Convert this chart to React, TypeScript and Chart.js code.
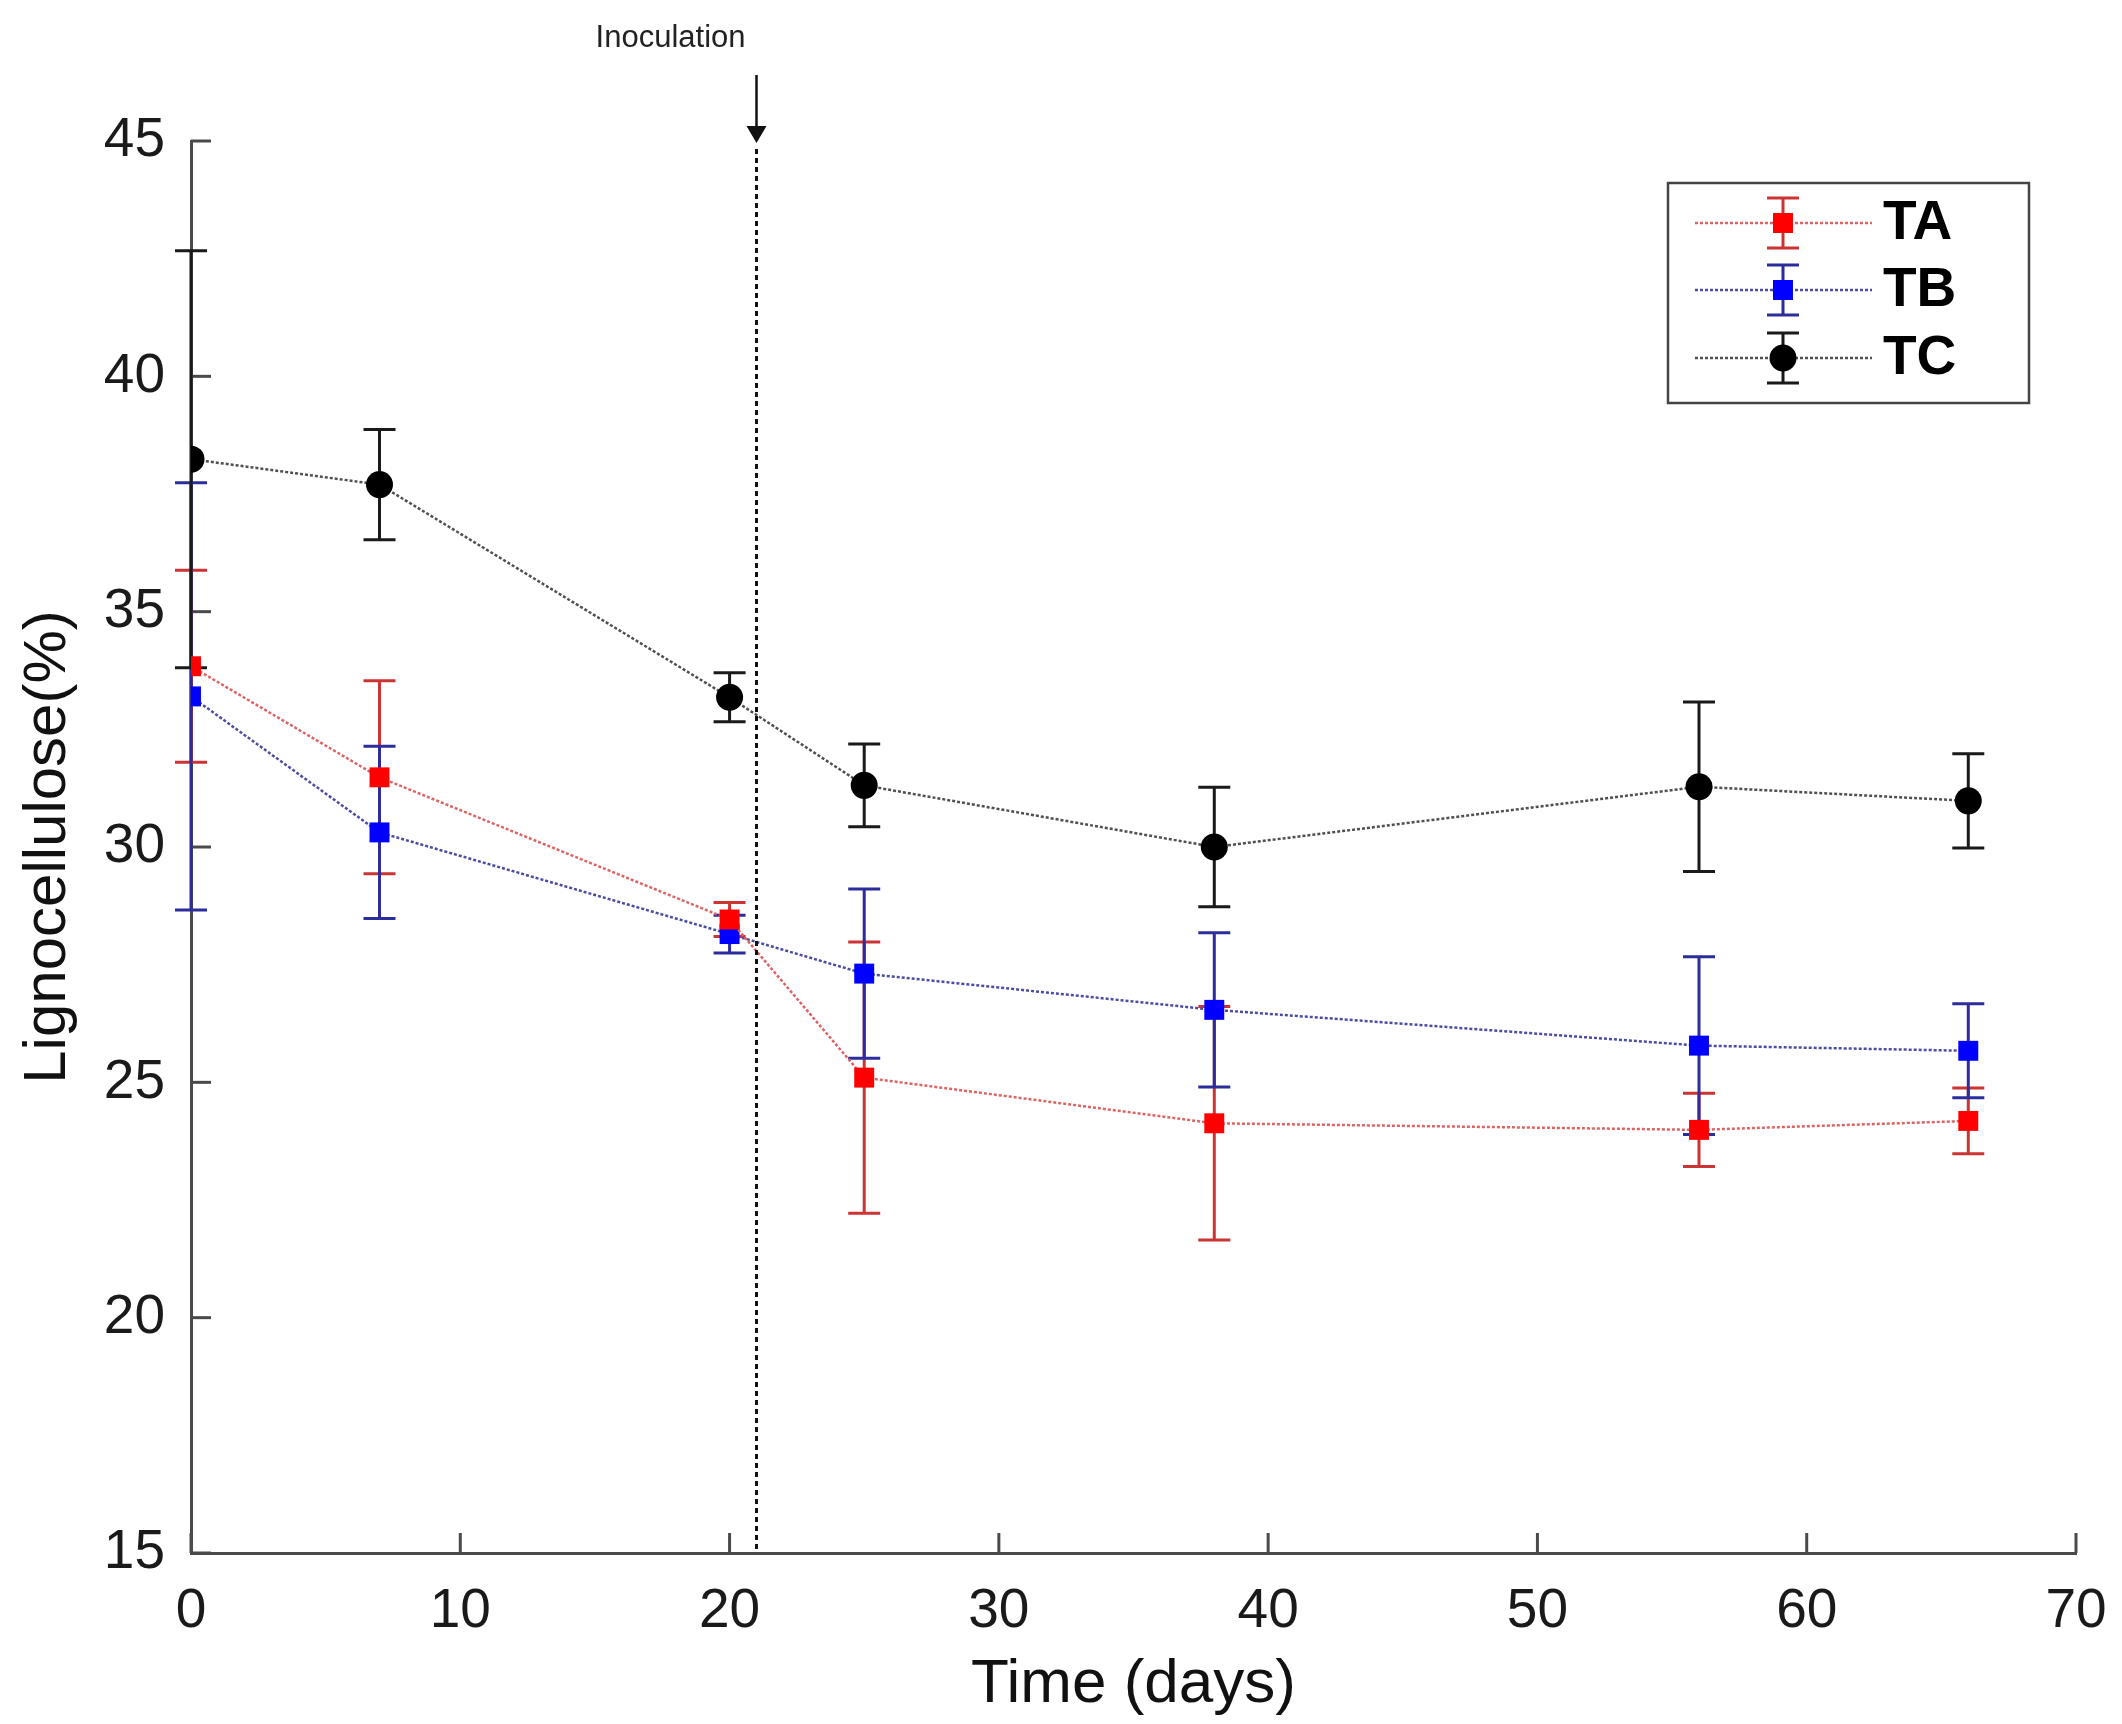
import React, { useEffect, useRef } from "react";
import { Chart, registerables } from "chart.js";

Chart.register(...registerables);

// ---- data ----
const days = [0, 7, 20, 25, 38, 56, 66];
const taValues = [33.84, 31.48, 28.46, 25.1, 24.13, 23.99, 24.18];
const taErrors = [2.04, 2.05, 0.36, 2.88, 2.48, 0.78, 0.7];
const tbValues = [33.2, 30.31, 28.15, 27.31, 26.54, 25.78, 25.67];
const tbErrors = [4.54, 1.83, 0.4, 1.8, 1.64, 1.89, 1.0];
const tcValues = [38.24, 37.7, 33.18, 31.31, 30.0, 31.28, 30.98];
const tcErrors = [4.43, 1.17, 0.52, 0.88, 1.27, 1.8, 1.0];
const seriesNames = ["TA", "TB", "TC"];
const xTitle = "Time (days)";
const yTitle = "Lignocellulose(%)";
const inoculationDay = 21;
const inoculationLabel = "Inoculation";

const FONT = '"Liberation Sans", Arial, Helvetica, sans-serif';
const AXIS = "#4a4a4a";

const errorBarPlugin = {
  id: "errorBars",
  beforeDatasetsDraw(chart: any) {
    const { ctx } = chart;
    const x = chart.scales.x;
    const y = chart.scales.y;
    chart.data.datasets.forEach((ds: any, di: number) => {
      if (!chart.isDatasetVisible(di)) return;
      ctx.save();
      ctx.strokeStyle = ds.errorColor;
      ctx.lineWidth = 3;
      ds.data.forEach((p: any, i: number) => {
        const e = ds.errors[i];
        const px = x.getPixelForValue(p.x);
        const top = y.getPixelForValue(p.y + e);
        const bot = y.getPixelForValue(p.y - e);
        ctx.beginPath();
        ctx.moveTo(px, top);
        ctx.lineTo(px, bot);
        ctx.moveTo(px - 16, top);
        ctx.lineTo(px + 16, top);
        ctx.moveTo(px - 16, bot);
        ctx.lineTo(px + 16, bot);
        ctx.stroke();
      });
      ctx.restore();
    });
  },
};

const innerTicksPlugin = {
  id: "innerTicks",
  beforeDatasetsDraw(chart: any) {
    const { ctx, chartArea } = chart;
    const x = chart.scales.x;
    const y = chart.scales.y;
    ctx.save();
    ctx.strokeStyle = AXIS;
    ctx.lineWidth = 3;
    x.ticks.forEach((t: any) => {
      const px = x.getPixelForValue(t.value);
      ctx.beginPath();
      ctx.moveTo(px, chartArea.bottom);
      ctx.lineTo(px, chartArea.bottom - 20);
      ctx.stroke();
    });
    y.ticks.forEach((t: any) => {
      const py = y.getPixelForValue(t.value);
      ctx.beginPath();
      ctx.moveTo(chartArea.left, py);
      ctx.lineTo(chartArea.left + 20, py);
      ctx.stroke();
    });
    ctx.restore();
  },
};

const inoculationPlugin = {
  id: "inoculation",
  afterDraw(chart: any) {
    const { ctx, chartArea } = chart;
    const x = chart.scales.x;
    const px = x.getPixelForValue(inoculationDay);
    ctx.save();
    ctx.strokeStyle = "#111";
    ctx.lineWidth = 3;
    ctx.setLineDash([5, 4]);
    ctx.beginPath();
    ctx.moveTo(px, chartArea.top + 8);
    ctx.lineTo(px, chartArea.bottom);
    ctx.stroke();
    ctx.setLineDash([]);
    ctx.lineWidth = 2.5;
    ctx.beginPath();
    ctx.moveTo(px, chartArea.top - 66);
    ctx.lineTo(px, chartArea.top - 12);
    ctx.stroke();
    ctx.fillStyle = "#111";
    ctx.beginPath();
    ctx.moveTo(px - 10, chartArea.top - 15);
    ctx.lineTo(px + 10, chartArea.top - 15);
    ctx.lineTo(px, chartArea.top + 2);
    ctx.closePath();
    ctx.fill();
    ctx.font = `31px ${FONT}`;
    ctx.textAlign = "right";
    ctx.textBaseline = "alphabetic";
    ctx.fillStyle = "#222";
    ctx.fillText(inoculationLabel, px - 11, chartArea.top - 94);
    ctx.restore();
  },
};

const legendPlugin = {
  id: "customLegend",
  afterDraw(chart: any) {
    const { ctx, chartArea } = chart;
    const boxRight = chartArea.right - 47;
    const boxLeft = boxRight - 361;
    const boxTop = chartArea.top + 42;
    const boxH = 220;
    ctx.save();
    ctx.fillStyle = "#fff";
    ctx.fillRect(boxLeft, boxTop, 361, boxH);
    ctx.strokeStyle = "#444";
    ctx.lineWidth = 2.5;
    ctx.strokeRect(boxLeft, boxTop, 361, boxH);
    const rows = [40, 107, 175];
    chart.data.datasets.forEach((ds: any, i: number) => {
      const cy = boxTop + rows[i];
      const cx = boxLeft + 115;
      ctx.strokeStyle = ds.borderColor;
      ctx.lineWidth = 2.5;
      ctx.setLineDash(ds.borderDash || []);
      ctx.beginPath();
      ctx.moveTo(boxLeft + 27, cy);
      ctx.lineTo(boxLeft + 204, cy);
      ctx.stroke();
      ctx.setLineDash([]);
      ctx.strokeStyle = ds.errorColor;
      ctx.lineWidth = 3;
      ctx.beginPath();
      ctx.moveTo(cx, cy - 25);
      ctx.lineTo(cx, cy + 25);
      ctx.moveTo(cx - 16, cy - 25);
      ctx.lineTo(cx + 16, cy - 25);
      ctx.moveTo(cx - 16, cy + 25);
      ctx.lineTo(cx + 16, cy + 25);
      ctx.stroke();
      ctx.fillStyle = ds.pointBackgroundColor;
      if (ds.pointStyle === "circle") {
        ctx.beginPath();
        ctx.arc(cx, cy, 13.5, 0, Math.PI * 2);
        ctx.fill();
      } else {
        ctx.fillRect(cx - 10, cy - 10, 20, 20);
      }
      ctx.fillStyle = "#000";
      ctx.font = `bold 55px ${FONT}`;
      ctx.textAlign = "left";
      ctx.textBaseline = "middle";
      ctx.fillText(ds.label, boxLeft + 215, cy + 1);
    });
    ctx.restore();
  },
};

function makeSeries(name: string, values: number[], errors: number[], lineColor: string, errColor: string, markerColor: string, style: string, radius: number) {
  return {
    label: name,
    data: days.map((d, i) => ({ x: d, y: values[i] })),
    errors,
    errorColor: errColor,
    borderColor: lineColor,
    borderWidth: 2.5,
    borderDash: [3, 2],
    pointStyle: style,
    pointRadius: radius,
    pointBackgroundColor: markerColor,
    pointBorderColor: markerColor,
    pointBorderWidth: 0,
    tension: 0,
    fill: false,
  };
}

export default function App() {
  const canvasRef = useRef<HTMLCanvasElement | null>(null);

  useEffect(() => {
    if (!canvasRef.current) return;
    const chart = new Chart(canvasRef.current, {
      type: "line",
      data: {
        datasets: [
          makeSeries(seriesNames[0], taValues, taErrors, "#dc6464", "#cc3434", "#ff0000", "rect", 14.1),
          makeSeries(seriesNames[1], tbValues, tbErrors, "#4c4ca4", "#2c2c9c", "#0000ff", "rect", 14.1),
          makeSeries(seriesNames[2], tcValues, tcErrors, "#505050", "#1a1a1a", "#000000", "circle", 13.5),
        ] as any,
      },
      options: {
        responsive: false,
        animation: false,
        devicePixelRatio: 1,
        layout: { padding: { left: 0, top: 141, right: 46, bottom: 0 } },
        plugins: {
          legend: { display: false },
          tooltip: { enabled: false },
          title: { display: false },
        },
        scales: {
          x: {
            type: "linear",
            min: 0,
            max: 70,
            ticks: {
              stepSize: 10,
              font: { family: FONT, size: 55 },
              color: "#1a1a1a",
              padding: 26,
              maxRotation: 0,
              autoSkip: false,
            },
            grid: { display: false, drawTicks: false },
            border: { display: true, color: AXIS, width: 3 },
            title: {
              display: true,
              text: xTitle,
              font: { family: FONT, size: 62 },
              color: "#111",
              padding: { top: 0, bottom: 2 },
            },
            afterFit: (s: any) => {
              s.height = 171;
              s.paddingRight = 20;
              s.paddingLeft = 0;
            },
          },
          y: {
            type: "linear",
            min: 15,
            max: 45,
            ticks: {
              stepSize: 5,
              font: { family: FONT, size: 55 },
              color: "#1a1a1a",
              padding: 26,
            },
            grid: { display: false, drawTicks: false },
            border: { display: true, color: AXIS, width: 3 },
            title: {
              display: true,
              text: yTitle,
              font: { family: FONT, size: 60 },
              color: "#111",
              padding: { top: 12, bottom: 0 },
            },
            afterFit: (s: any) => {
              s.width = 191;
              s.paddingTop = 0;
              s.paddingBottom = 0;
            },
          },
        },
      } as any,
      plugins: [innerTicksPlugin, errorBarPlugin, inoculationPlugin, legendPlugin],
    });
    return () => chart.destroy();
  }, []);

  return (
    <div style={{ position: "absolute", left: 0, top: 0, width: 2122, height: 1724, background: "#fff" }}>
      <canvas ref={canvasRef} width={2122} height={1724} style={{ display: "block", width: 2122, height: 1724 }} />
    </div>
  );
}
